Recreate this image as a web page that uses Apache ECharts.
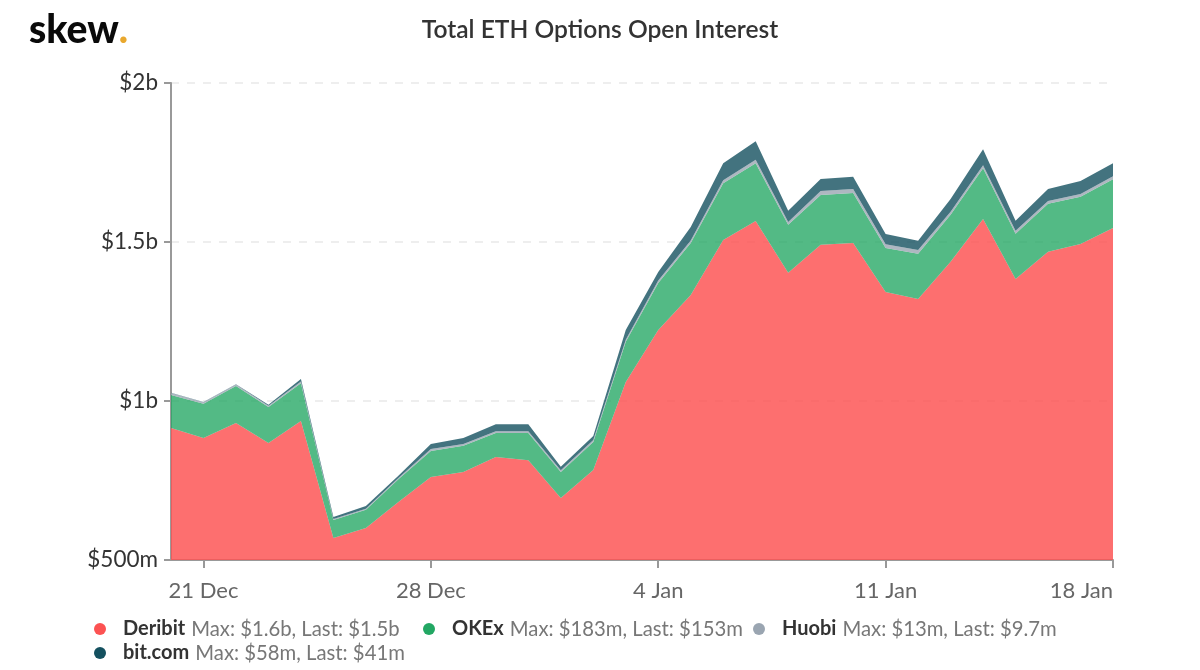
<!DOCTYPE html>
<html>
<head>
<meta charset="utf-8" />
<style>html,body{margin:0;background:#fff}</style>
</head>
<body>
<div id="main" style="width:1200px;height:670px;"></div>
<script src="https://cdn.jsdelivr.net/npm/echarts@6/dist/echarts.min.js"></script>
<script>
var days = ['20 Dec','21 Dec','22 Dec','23 Dec','24 Dec','25 Dec','26 Dec','27 Dec','28 Dec','29 Dec','30 Dec','31 Dec',
  '1 Jan','2 Jan','3 Jan','4 Jan','5 Jan','6 Jan','7 Jan','8 Jan','9 Jan','10 Jan','11 Jan','12 Jan','13 Jan','14 Jan','15 Jan','16 Jan','17 Jan','18 Jan'];
// values in $m
var deribit = [915,884,931,868,937,569,601,682,761,777,824,814,695,783,1060,1223,1333,1506,1566,1403,1491,1497,1343,1321,1438,1572,1384,1469,1494,1544];
var okex = [104,107,116,113,119,57,57,72,82,82,75,85,82,88,126,148,164,179,182,151,157,157,138,142,148,160,142,151,148,153];
var huobi = [6,5,5,4,5,3,3,4,6,6,6,6,5,6,7,8,8,9,11,9,12,13,12,12,9,9,9,9,9,9.7];
var bitcom = [1,1,1,3,8,6,9,7,16,19,22,22,11,13,30,27,42,54,58,35,38,38,32,29,40,51,32,38,41,41];

var shownDays = ['21 Dec','28 Dec','4 Jan','11 Jan','18 Jan'];
var legendStats = {
  'Deribit': 'Max: $1.6b, Last: $1.5b',
  'OKEx': 'Max: $183m, Last: $153m',
  'Huobi': 'Max: $13m, Last: $9.7m',
  'bit.com': 'Max: $58m, Last: $41m'
};

var font = 'Lato';

function isShown(i, name) { return shownDays.indexOf(name) >= 0; }

function area(name, data, color, opacity) {
  return {
    name: name, type: 'line', stack: 'oi', data: data,
    symbol: 'none', showSymbol: false,
    itemStyle: { color: color },
    lineStyle: { width: 0 },
    areaStyle: { color: color, opacity: opacity }
  };
}

// one legend per entry, the spacing in the original is uneven
function legendBox(name, left, top) {
  return {
    data: [{ name: name, icon: 'circle' }],
    left: left, top: top, orient: 'horizontal',
    itemWidth: 12, itemHeight: 12, padding: 0,
    selectedMode: false,
    formatter: function (n) { return '{s|}{n|' + n + '}{g|}{m|' + legendStats[n] + '}'; },
    textStyle: {
      rich: {
        s: { width: 12 },
        g: { width: 6 },
        n: { fontFamily: font, fontSize: 20, fontWeight: 700, color: '#333' },
        m: { fontFamily: font, fontSize: 20.3, fontWeight: 400, color: '#777' }
      }
    }
  };
}

var myChart = echarts.init(document.getElementById('main'));
myChart.setOption({
  animation: false,
  backgroundColor: '#fff',
  title: [
    { text: 'Total ETH Options Open Interest', left: 600, textAlign: 'center', top: 18, padding: 0,
      textStyle: { fontFamily: font, fontSize: 24.6, fontWeight: 600, color: '#333' } },
    { text: '{a|skew}{b|.}', left: 29, top: 11, padding: 0,
      textStyle: { rich: {
        a: { fontFamily: font, fontSize: 39, fontWeight: 900, color: '#0a0a0a' },
        b: { fontFamily: font, fontSize: 39, fontWeight: 900, color: '#e9a82e' }
      } } }
  ],
  legend: [
    legendBox('Deribit', 94, 619),
    legendBox('OKEx', 423, 619),
    legendBox('Huobi', 753, 619),
    legendBox('bit.com', 94, 643)
  ],
  grid: { left: 171, right: 87, top: 83, bottom: 110 },
  xAxis: {
    type: 'category', data: days, boundaryGap: false,
    axisLine: { onZero: false, lineStyle: { color: '#999', width: 2 } },
    axisTick: { interval: isShown, length: 8, lineStyle: { color: '#999', width: 2 } },
    axisLabel: { interval: isShown, margin: 20, fontFamily: font, fontSize: 22, color: '#666', alignMaxLabel: 'right', showMaxLabel: true }
  },
  yAxis: {
    type: 'value', min: 500, max: 2000, interval: 500,
    axisLine: { show: true, lineStyle: { color: '#999', width: 2 } },
    axisTick: { show: true, length: 7, lineStyle: { color: '#999', width: 2 } },
    axisLabel: { margin: 13, fontFamily: font, fontSize: 22.5, color: '#333',
      formatter: function (v) { return v < 1000 ? '$' + v + 'm' : '$' + v / 1000 + 'b'; } },
    splitLine: { lineStyle: { color: '#eee', width: 2, type: [8, 8] } }
  },
  series: [
    area('Deribit', deribit, '#fc5252', 0.83),
    area('OKEx', okex, '#22a763', 0.78),
    area('Huobi', huobi, '#9aa5b1', 0.8),
    area('bit.com', bitcom, '#14505f', 0.8)
  ]
});
</script>
</body>
</html>
